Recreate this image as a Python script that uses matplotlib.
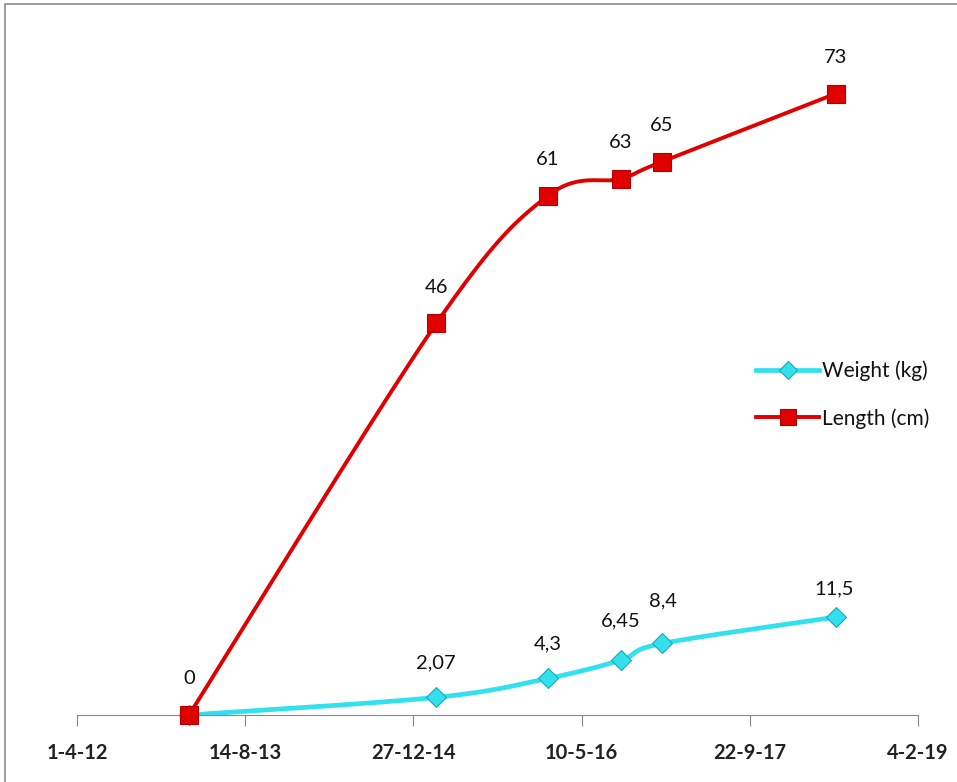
import numpy as np
import matplotlib.pyplot as plt
import matplotlib.dates as mdates
from matplotlib.lines import Line2D
from matplotlib.patches import Rectangle
from datetime import date, timedelta

# Datos
fechas = ['2013-02-28', '2015-03-05', '2016-01-31', '2016-09-04', '2017-01-04', '2018-06-05']
peso = [0, 2.07, 4.3, 6.45, 8.4, 11.5]
largo = [0, 46, 61, 63, 65, 73]
etiquetas_peso = ['', '2,07', '4,3', '6,45', '8,4', '11,5']
etiquetas_largo = ['0', '46', '61', '63', '65', '73']

inicio = date(2012, 4, 1)
paso_dias = 500
n_ticks = 6

plt.rcParams['font.family'] = ['Lato', 'DejaVu Sans']

x = mdates.datestr2num(fechas)

fig = plt.figure(figsize=(9.57, 7.82), dpi=100)
ax = fig.add_axes([77 / 957, 1 - 715 / 782, (918 - 77) / 957, (715 - 34) / 782])

ticks = [mdates.date2num(inicio + timedelta(days=paso_dias * i)) for i in range(n_ticks)]
ax.set_xlim(ticks[0], ticks[-1])
ax.set_ylim(0, 80)


def suavizar(ax, xs, ys, n=40):
    # curva tipo Excel (Bezier / Catmull-Rom) en coordenadas de pantalla
    pts = ax.transData.transform(np.column_stack([xs, ys]))
    p = np.vstack([pts[0], pts, pts[-1]])
    t = np.linspace(0, 1, n)[:, None]
    segs = []
    for i in range(1, len(p) - 2):
        p0, p1, p2, p3 = p[i - 1], p[i], p[i + 1], p[i + 2]
        c1 = p1 + (p2 - p0) / 6
        c2 = p2 - (p3 - p1) / 6
        segs.append((1 - t) ** 3 * p1 + 3 * (1 - t) ** 2 * t * c1
                    + 3 * (1 - t) * t ** 2 * c2 + t ** 3 * p2)
    return ax.transData.inverted().transform(np.vstack(segs))


cyan = '#33E0EE'
rojo = '#E00000'

cp = suavizar(ax, x, peso)
ax.plot(cp[:, 0], cp[:, 1], color=cyan, lw=3.4, solid_capstyle='round', zorder=2)
ax.plot(x, peso, ls='none', marker='D', ms=10.5, mfc=cyan, mec='#1AA8B8', mew=0.8,
        zorder=3, clip_on=False)

cl = suavizar(ax, x, largo)
ax.plot(cl[:, 0], cl[:, 1], color=rojo, lw=2.8, solid_capstyle='round', zorder=4)
ax.plot(x, largo, ls='none', marker='s', ms=12.5, mfc=rojo, mec='#B00000', mew=0.8,
        zorder=5, clip_on=False)

# etiquetas de datos
for xi, yi, txt in zip(x, largo, etiquetas_largo):
    ax.annotate(txt, (xi, yi), xytext=(0, 26), textcoords='offset points',
                ha='center', va='center', fontsize=14.5, color='#111111')

desp_peso = [(0, 0), (0, 25), (0, 25), (0, 28), (1, 31), (-1, 20)]
for xi, yi, txt, d in zip(x, peso, etiquetas_peso, desp_peso):
    if txt:
        ax.annotate(txt, (xi, yi), xytext=d, textcoords='offset points',
                    ha='center', va='center', fontsize=14.5, color='#111111')

ax.set_xticks(ticks)
ax.set_xticklabels([f'{d.day}-{d.month}-{d.year % 100}'
                    for d in (mdates.num2date(t) for t in ticks)],
                   fontsize=14.5, fontweight='bold', color='#222222')
ax.set_yticks([])
for lado in ['top', 'right', 'left']:
    ax.spines[lado].set_visible(False)
ax.spines['bottom'].set_color('#888888')
ax.tick_params(axis='x', direction='out', length=8, color='#888888', pad=12)

handles = [
    Line2D([], [], color=cyan, lw=3.4, marker='D', ms=9.5, mfc=cyan, mec='#1AA8B8', mew=0.8),
    Line2D([], [], color=rojo, lw=2.8, marker='s', ms=11, mfc=rojo, mec='#B00000', mew=0.8),
]
fig.legend(handles, ['Weight (kg)', 'Length (cm)'], loc='upper left',
           bbox_to_anchor=(746 / 957, 1 - 350 / 782), frameon=False, fontsize=15,
           handlelength=3.0, handletextpad=0.15, labelspacing=1.3, borderpad=0,
           labelcolor='#111111')

# borde del area del grafico
fig.patches.append(Rectangle((5 / 957, -0.1), 1.2, 1.1 - 4 / 782, transform=fig.transFigure,
                             fill=False, edgecolor='#8C8C8C', lw=1.2))

fig.savefig('out.png', dpi=100)
